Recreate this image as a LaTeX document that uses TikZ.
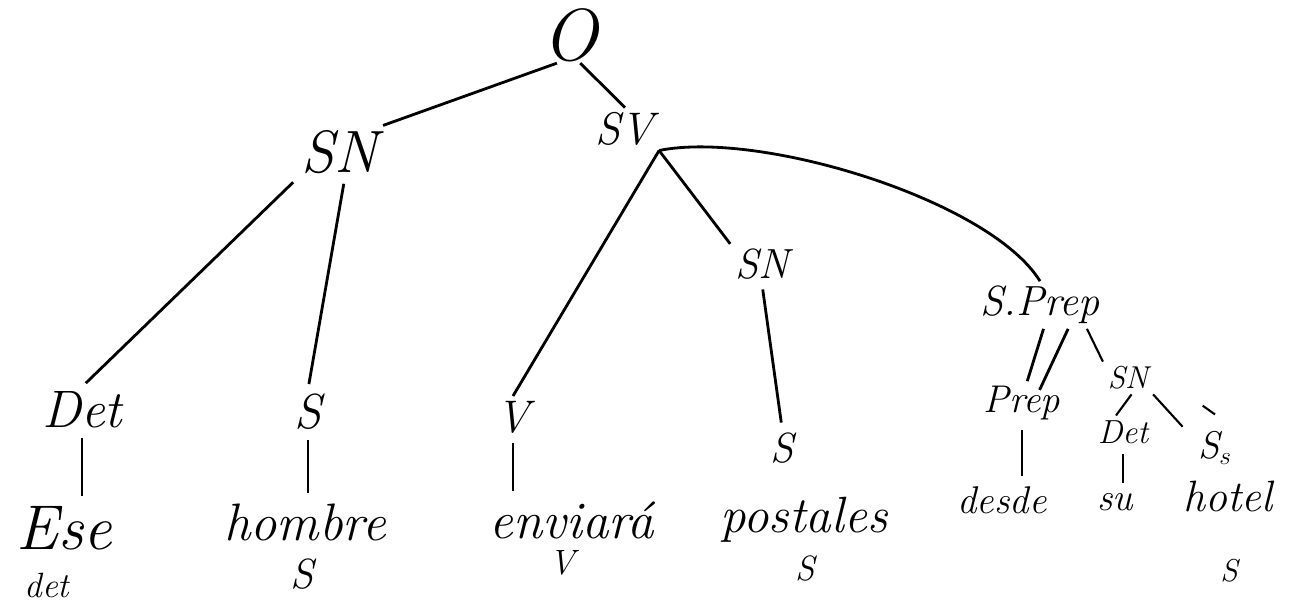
\documentclass[tikz,border=0pt]{standalone}
\begin{document}
\begin{tikzpicture}[x=0.02cm, y=-0.02cm, line width=1.6pt,
    fs/.style={font=\fontsize{#1}{#1}\selectfont\itshape, inner sep=2pt},
    thin edge/.style={line width=1.2pt},
    short/.style={shorten <=3pt, shorten >=3pt}]
    \useasboundingbox (0,0) rectangle (1290,606);

    % Root and phrases
    \node[fs=42, inner sep=0pt] (O) at (570,35) {O};
    \node[fs=34] (sn1) at (340,152) {SN};
    \node[fs=26] (sv) at (625,129) {SV};

    % Categories
    \node[fs=30] (det1) at (82,410) {Det};
    \node[fs=28] (s1) at (308,412) {S};
    \node[fs=26] (v1) at (513,417) {V};
    \node[fs=24] (sn2) at (762,264) {SN};
    \node[fs=24] (s2) at (782,448) {S};
    \node[fs=24] (sprep) at (1040,305) {S.Prep};
    \node[fs=22] (prep) at (1022,403) {Prep};
    \node[fs=18] (sn3) at (1128,378) {SN};
    \node[fs=19] (det3) at (1123,432) {Det};
    \node[fs=22] (s3) at (1215,448) {S$_s$};

    % Words
    \node[fs=36] (w1) at (64,528) {Ese};
    \node[fs=30] (w2) at (305,522) {hombre};
    \node[fs=30] (w3) at (572,520) {enviará};
    \node[fs=29] (w4) at (804,520) {postales};
    \node[fs=22] (w5) at (1002,500) {desde};
    \node[fs=22] (w6) at (1115,502) {su};
    \node[fs=25] (w7) at (1228,496) {hotel};

    % Tags under the words
    \node[fs=20] (t1) at (47,585) {det};
    \node[fs=24] (t2) at (302,574) {S};
    \node[fs=20] (t3) at (562,563) {V};
    \node[fs=20] (t4) at (805,568) {S};
    \node[fs=18] (t7) at (1229,571) {S};

    % Branches
    \draw (O.-115) -- (sn1.north east);
    \draw (O.-70) -- (sv.north);
    \draw[short] (sn1.south west) -- (det1.north);
    \draw[short] (sn1.-80) -- (s1.north);
    \draw (sv.south east) -- (v1.north);
    \draw (sv.south east) -- (sn2.north west);
    \draw (sv.south east) .. controls (760,130) and (990,200) .. (sprep.north);
    \draw[short] (sn2.south) -- (s2.north);
    \draw ([xshift=2pt]sprep.south) -- ([xshift=3pt]prep.north);
    \draw ([xshift=16pt]sprep.south) -- ([xshift=10pt,yshift=-5pt]prep.north);
    \draw[thin edge] ([xshift=-10pt]sprep.south east) -- (sn3.north west);
    \draw[thin edge] ([xshift=2pt]sn3.south) -- ([xshift=-4pt]det3.north);
    \draw[thin edge] (sn3.south east) -- ([xshift=-6pt]s3.north west);
    \draw[thin edge] ([xshift=-7pt,yshift=12pt]s3.north) -- ([xshift=0pt,yshift=7pt]s3.north);

    % Words
    \draw[short] (det1.south) -- (det1.south |- w1.north);
    \draw[short] (s1.south) -- (s1.south |- w2.north);
    \draw[short] (v1.south) -- (v1.south |- w3.north);
    \draw[short] (prep.south) -- (prep.south |- w5.north);
    \draw[thin edge, short] (det3.south) -- (det3.south |- w6.north);

\end{tikzpicture}
\end{document}
